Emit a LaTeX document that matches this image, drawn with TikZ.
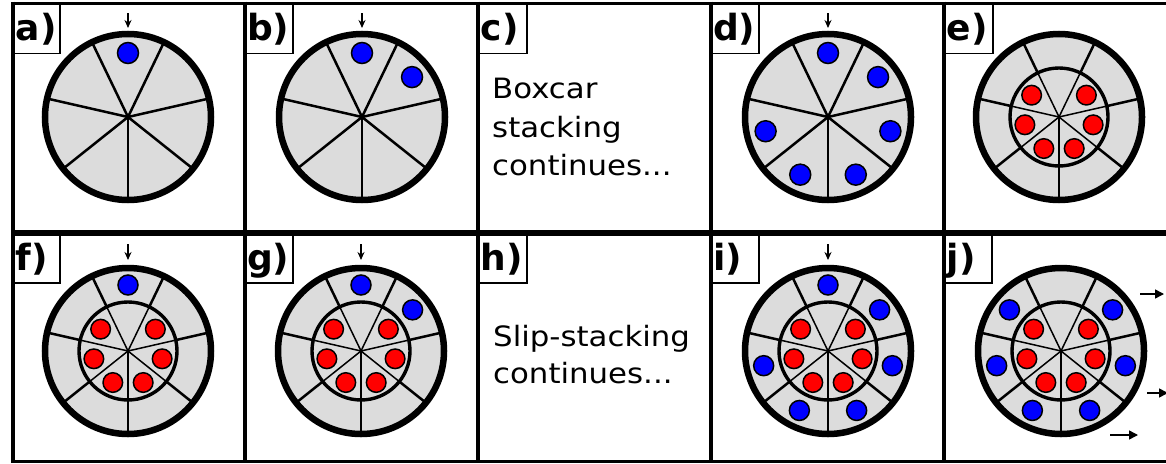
\documentclass[tikz,border=0pt]{standalone}
\usepackage{fontspec}
\setmainfont{DejaVu Sans}
\newfontfamily\txtfont[FakeStretch=1.1]{DejaVu Sans}
\usetikzlibrary{arrows.meta}
\definecolor{wheelgray}{RGB}{220,220,220}
\definecolor{dotblue}{RGB}{0,0,255}
\definecolor{dotred}{RGB}{255,0,0}
\tikzset{
  frameline/.style={line width=4pt},
  rim/.style={line width=6.5pt},
  innerrim/.style={line width=3.4pt},
  spoke/.style={line width=2.5pt},
  spokethin/.style={line width=1.5pt},
  bluedot/.style={fill=dotblue,draw=black,line width=1.5pt},
  reddot/.style={fill=dotred,draw=black,line width=1.5pt},
  injarrow/.style={line width=1.5pt,-{Stealth[length=8pt,width=7pt]}},
  extarrow/.style={line width=1.5pt,-{Triangle[length=9pt,width=9pt]}},
  labelbox/.style={draw=black,line width=1.3pt},
  labeltext/.style={anchor=base west,inner sep=0pt,font=\fontsize{36}{36}\selectfont\bfseries},
  bodytext/.style={anchor=base west,inner sep=0pt,font=\fontsize{28}{28}\selectfont\txtfont},
  wheelone/.pic={
    \fill[wheelgray] (0,0) circle[radius=83pt];
    \foreach \k in {0,...,6} \draw[spoke] (0,0) -- ({-90+\k*360/7}:83pt);
    \draw[rim] (0,0) circle[radius=83pt];
  },
  wheeltwo/.pic={
    \fill[wheelgray] (0,0) circle[radius=83pt];
    \foreach \k in {0,...,6} {
      \draw[spokethin] (0,0) -- ({-90+\k*360/7}:49pt);
      \draw[spoke] ({-90+\k*360/7}:49pt) -- ({-90+\k*360/7}:83pt);
    }
    \draw[innerrim] (0,0) circle[radius=49pt];
    \draw[rim] (0,0) circle[radius=83pt];
    \foreach \k in {1,...,6} \filldraw[reddot] ({90+\k*360/7}:35pt) circle[radius=9.8pt];
  },
}
\begin{document}
\begin{tikzpicture}[x=1pt,y=-1pt]
\useasboundingbox (0,0) rectangle (1166,463);
\fill[white] (0,0) rectangle (1166,463);

% frame
\draw[line width=3.3pt] (11.3,3.3) -- (1166,3.3);
\draw[line width=3pt] (11.3,461) -- (1166,461);
\draw[line width=6pt] (11.3,233) -- (1166,233);
\foreach \xx in {13,244.5,478,710.5,944}
  \draw[frameline] (\xx,1.6) -- (\xx,462.5);

% centres
\coordinate (ca) at (128,117);
\coordinate (cb) at (362,117);
\coordinate (cd) at (828,117);
\coordinate (ce) at (1059,117);
\coordinate (cf) at (128,351);
\coordinate (cg) at (361,351);
\coordinate (ci) at (828,351);
\coordinate (cj) at (1061,351);

% a
\pic at (ca) {wheelone};
\begin{scope}[shift={(ca)}]
  \filldraw[bluedot] (90:64pt) circle[radius=10.5pt];
  \draw[injarrow] (0pt,104pt) -- (0pt,89pt);
\end{scope}
% b
\pic at (cb) {wheelone};
\begin{scope}[shift={(cb)}]
  \foreach \k in {0,6} \filldraw[bluedot] ({90+\k*360/7}:64pt) circle[radius=10.5pt];
  \draw[injarrow] (0pt,104pt) -- (0pt,89pt);
\end{scope}
% d
\pic at (cd) {wheelone};
\begin{scope}[shift={(cd)}]
  \foreach \k in {0,2,3,4,5,6} \filldraw[bluedot] ({90+\k*360/7}:64pt) circle[radius=10.5pt];
  \draw[injarrow] (0pt,104pt) -- (0pt,89pt);
\end{scope}
% e
\pic at (ce) {wheeltwo};
% f
\pic at (cf) {wheeltwo};
\begin{scope}[shift={(cf)}]
  \filldraw[bluedot] (90:66pt) circle[radius=10pt];
  \draw[injarrow] (0pt,107pt) -- (0pt,91pt);
\end{scope}
% g
\pic at (cg) {wheeltwo};
\begin{scope}[shift={(cg)}]
  \foreach \k in {0,6} \filldraw[bluedot] ({90+\k*360/7}:66pt) circle[radius=10pt];
  \draw[injarrow] (0pt,107pt) -- (0pt,91pt);
\end{scope}
% i
\pic at (ci) {wheeltwo};
\begin{scope}[shift={(ci)}]
  \foreach \k in {0,2,3,4,5,6} \filldraw[bluedot] ({90+\k*360/7}:66pt) circle[radius=10pt];
  \draw[injarrow] (0pt,107pt) -- (0pt,91pt);
\end{scope}
% j
\pic at (cj) {wheeltwo};
\begin{scope}[shift={(cj)}]
  \foreach \k in {1,...,6} \filldraw[bluedot] ({90+\k*360/7}:66pt) circle[radius=10pt];
\end{scope}
\coordinate (j1s) at (1140,294); \coordinate (j1e) at (1164,294);
\coordinate (j2s) at (1147,393); \coordinate (j2e) at (1168,393);
\coordinate (j3s) at (1110,435); \coordinate (j3e) at (1138,435);
\draw[extarrow] (j1s) -- (j1e);
\draw[extarrow] (j2s) -- (j2e);
\draw[extarrow] (j3s) -- (j3e);

% labels
\foreach \xx/\yy/\ww/\lab in {13/3.3/47/a, 244.5/3.3/48.5/b, 478/3.3/49/c, 710.5/3.3/48.5/d, 944/3.3/49/e,
                               13/233/47/f, 244.5/233/48.5/g, 478/233/49/h, 710.5/233/48.5/i, 944/233/48/j} {
  \draw[labelbox] (\xx,\yy) rectangle (\xx+\ww,\yy+50);
  \node[labeltext] (lab\lab) at (\xx+2.5,\yy+37) {\lab)};
}

% texts
\node[bodytext] (c1) at (492,98) {Boxcar};
\node[bodytext] (c2) at (492,137) {stacking};
\node[bodytext] (c3) at (492,175) {continues...};
\node[bodytext] (h1) at (493,346) {Slip-stacking};
\node[bodytext] (h2) at (493,383) {continues...};
\end{tikzpicture}
\end{document}
